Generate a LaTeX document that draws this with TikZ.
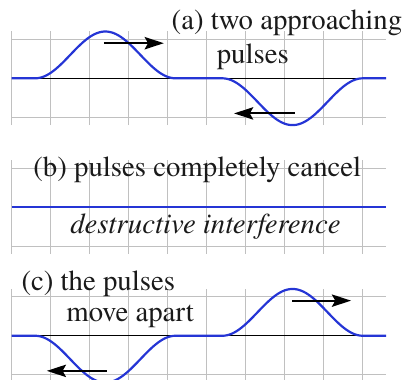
\documentclass[tikz,border=0pt]{standalone}
\usepackage{fontspec}
\setmainfont{TeX Gyre Termes}
\usetikzlibrary{arrows.meta}
\definecolor{gridgray}{HTML}{C0C0C0}
\definecolor{pulseblue}{HTML}{2535D5}
\definecolor{txt}{HTML}{1A1A1A}
\tikzset{
  gridlines/.style={draw=gridgray, line width=0.65pt},
  axisline/.style={draw=black, line width=0.7pt},
  wave/.style={draw=pulseblue, line width=1.6pt, line join=round},
  motion/.style={draw=black, line width=1.4pt, -{Stealth[length=14pt,width=9pt,inset=2.5pt]}},
  label/.style={anchor=base, inner sep=0pt, text=txt, font=\fontsize{21}{25}\selectfont}
}
\begin{document}
\begin{tikzpicture}[x=0.6cm,y=0.6cm]
\useasboundingbox (-0.5,-12.85) rectangle (16.89,3.346);
\clip (-0.5,-12.85) rectangle (16.89,3.346);
% panel (a)
\begin{scope}
  \draw[gridlines] (0,-2) grid (16,2);
  \draw[axisline] (1,0) -- (15,0);
  \draw[wave] (0,0) -- (1,0) -- plot[domain=1:7,samples=60,smooth] (\x,{1-cos(60*(\x-1))})
     -- (9,0) -- plot[domain=9:15,samples=60,smooth] (\x,{-1+cos(60*(\x-9))}) -- (16,0);
  \coordinate (a1s) at (3.94,1.5); \coordinate (a1e) at (6.5,1.5);
  \coordinate (a2s) at (12.1,-1.5); \coordinate (a2e) at (9.5,-1.5);
  \draw[motion] (a1s) -- (a1e);
  \draw[motion] (a2s) -- (a2e);
  \node[label] (ta1) at (11.76,2.09) {(a) two approaching};
  \node[label] (ta2) at (10.3,0.64) {pulses};
\end{scope}
% panel (b)
\begin{scope}[shift={(0,-5.5)}]
  \draw[gridlines] (0,-2) grid (16,2);
  \draw[wave] (0,0) -- (16,0);
  \node[label] (tb1) at (7.93,1.3) {(b) pulses completely cancel};
  \node[label] (tb2) at (8.28,-1.12) {\itshape destructive interference};
\end{scope}
% panel (c)
\begin{scope}[shift={(0,-11)}]
  \draw[gridlines] (0,-2) grid (16,2);
  \draw[axisline] (1,0) -- (15,0);
  \draw[wave] (0,0) -- (1,0) -- plot[domain=1:7,samples=60,smooth] (\x,{-1+cos(60*(\x-1))})
     -- (9,0) -- plot[domain=9:15,samples=60,smooth] (\x,{1-cos(60*(\x-9))}) -- (16,0);
  \coordinate (c1s) at (11.98,1.5); \coordinate (c1e) at (14.5,1.5);
  \coordinate (c2s) at (4.07,-1.5); \coordinate (c2e) at (1.5,-1.5);
  \draw[motion] (c1s) -- (c1e);
  \draw[motion] (c2s) -- (c2e);
  \node[label] (tc1) at (3.70,1.95) {(c) the pulses};
  \node[label] (tc2) at (5.06,0.6) {move apart};
\end{scope}
\end{tikzpicture}
\end{document}
